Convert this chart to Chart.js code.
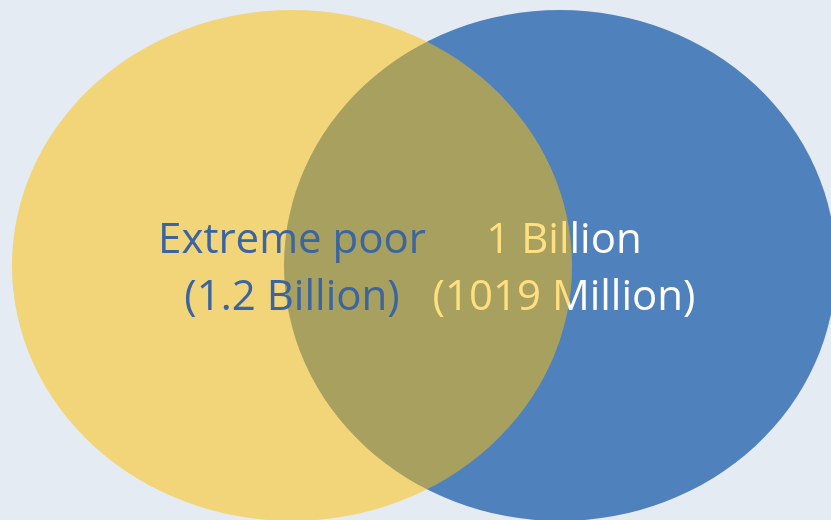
<!DOCTYPE html>
<html>
<head>
<meta charset="utf-8">
<script src="https://cdn.jsdelivr.net/npm/chart.js@4/dist/chart.umd.min.js"></script>
<style>
  html, body { margin: 0; padding: 0; background: #E4EBF3; }
  #wrap { width: 831px; height: 520px; position: relative; }
</style>
</head>
<body>
<div id="wrap"><canvas id="c"></canvas></div>
<script>
// ---- data ----
const setNames   = ['Extreme poor', '1 Billion'];
const setLabels  = ['(1.2 Billion)', '(1019 Million)'];
const setSizesBn = [1.2, 1.019];
const setCenterX = [0, 1];   // Venn layout positions (data units)
const setCenterY = [0, 0];
const setRadius  = [1.045, 1.03];

// ---- styles ----
const fillColors = ['rgba(255,192,0,0.5)', '#4F81BD'];
const textColors = ['#3B64A0', '#FFFFFF'];
const drawOrder  = [1, 0];   // blue first, translucent yellow on top

const vennPlugin = {
  id: 'venn',
  afterDatasetsDraw(chart) {
    const ctx = chart.ctx;
    const xs = chart.scales.x, ys = chart.scales.y;
    const fontSize = 42;
    drawOrder.forEach(i => {
      const cx = xs.getPixelForValue(setCenterX[i]);
      const cy = ys.getPixelForValue(setCenterY[i]);
      const rx = xs.getPixelForValue(setCenterX[i] + setRadius[i]) - cx;
      const ry = cy - ys.getPixelForValue(setCenterY[i] + 1);
      ctx.save();
      ctx.beginPath();
      ctx.ellipse(cx, cy, rx, ry, 0, 0, Math.PI * 2);
      ctx.fillStyle = fillColors[i];
      ctx.fill();
      ctx.font = fontSize + 'px "Open Sans", sans-serif';
      ctx.fillStyle = textColors[i];
      ctx.textAlign = 'center';
      ctx.textBaseline = 'alphabetic';
      const tx = i === 0 ? cx : cx + 4;
      ctx.fillText(setNames[i], tx, cy - 12.5);
      ctx.fillText(setLabels[i], tx, cy + 44.5);
      ctx.restore();
    });
  }
};

new Chart(document.getElementById('c'), {
  type: 'scatter',
  data: {
    datasets: setNames.map((n, i) => ({
      label: n + ' ' + setLabels[i],
      data: [{ x: setCenterX[i], y: setCenterY[i], size: setSizesBn[i] }],
      pointRadius: 0,
      pointHoverRadius: 0
    }))
  },
  options: {
    responsive: true,
    maintainAspectRatio: false,
    animation: false,
    layout: { padding: 0 },
    plugins: { legend: { display: false }, tooltip: { enabled: false } },
    scales: {
      x: { type: 'linear', display: false, min: -1.0896, max: 2.0112 },
      y: { type: 'linear', display: false, min: -0.996, max: 1.039 }
    }
  },
  plugins: [vennPlugin]
});
</script>
</body>
</html>
